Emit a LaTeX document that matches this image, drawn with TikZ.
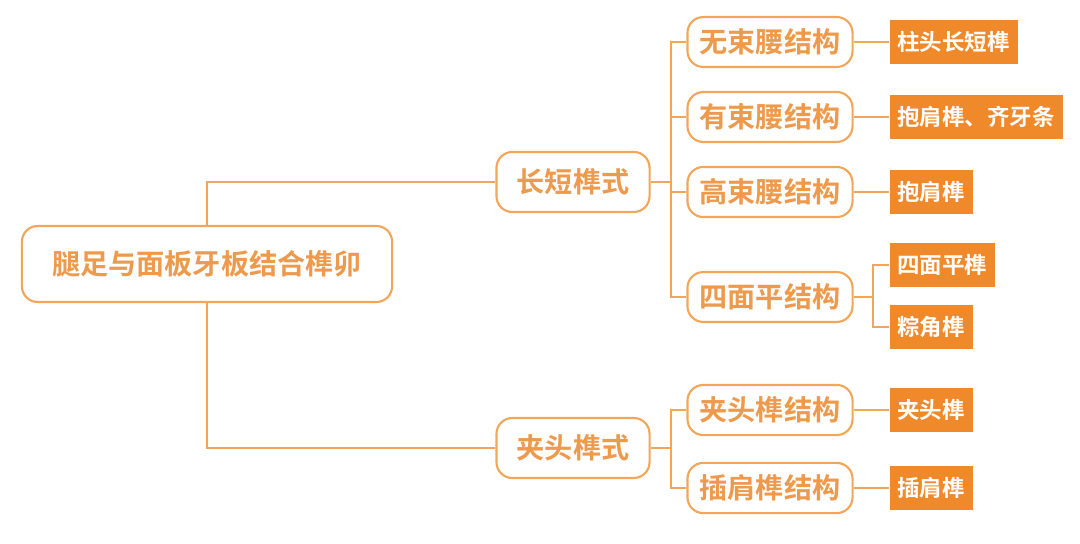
\documentclass[tikz,border=0pt]{standalone}
\usepackage{fontspec}
\setmainfont{Noto Sans CJK SC Bold}
\usetikzlibrary{positioning}
\definecolor{edgeorange}{HTML}{F2A65A}
\definecolor{textorange}{HTML}{EE9A4D}
\definecolor{fillorange}{HTML}{F0892A}
\tikzset{
  rootbox/.style={draw=edgeorange, line width=0.6pt, rounded corners=4.5pt, fill=white,
    text=textorange, font=\fontsize{8}{9}\selectfont, minimum width=3.7cm, minimum height=0.76cm},
  midbox/.style={draw=edgeorange, line width=0.6pt, rounded corners=4.5pt, fill=white,
    text=textorange, font=\fontsize{8}{9}\selectfont, minimum width=1.53cm, minimum height=0.6cm},
  subbox/.style={draw=edgeorange, line width=0.6pt, rounded corners=4.5pt, fill=white,
    text=textorange, font=\fontsize{8}{9}\selectfont, minimum width=1.65cm, minimum height=0.46cm},
  leafbox/.style={fill=fillorange, text=white, font=\fontsize{6.4}{7}\selectfont,
    minimum height=0.36cm, inner xsep=2.2pt, anchor=west},
  link/.style={draw=edgeorange, line width=0.6pt}
}
\begin{document}
\begin{tikzpicture}[x=0.01cm, y=-0.01cm]
  \useasboundingbox (0,0) rectangle (1080,543);
  % root and first level
  \node[rootbox] (root) at (207,264) {腿足与面板牙板结合榫卯};
  \node[midbox] (cd) at (573,182) {长短榫式};
  \node[midbox] (jt) at (573,448) {夹头榫式};
  % second level
  \foreach \n/\y/\t in {a/42/无束腰结构, b/117/有束腰结构, c/192/高束腰结构,
      d/297/四面平结构, e/410/夹头榫结构, f/488/插肩榫结构}
    \node[subbox] (s\n) at (770,\y) {\t};
  % leaves
  \node[leafbox] (la) at (889,42) {柱头长短榫};
  \node[leafbox] (lb) at (889,117) {抱肩榫、齐牙条};
  \node[leafbox] (lc) at (889,192) {抱肩榫};
  \node[leafbox] (ld1) at (889,265) {四面平榫};
  \node[leafbox] (ld2) at (889,327) {粽角榫};
  \node[leafbox] (le) at (889,410) {夹头榫};
  \node[leafbox] (lf) at (889,488) {插肩榫};
  % connectors
  \path[link] (root.north) |- (cd.west);
  \path[link] (root.south) |- (jt.west);
  \foreach \s in {sa,sb,sc,sd}
    \path[link] (cd.east) -- ++(20,0) |- (\s.west);
  \foreach \s in {se,sf}
    \path[link] (jt.east) -- ++(20,0) |- (\s.west);
  \foreach \s/\l in {sa/la,sb/lb,sc/lc,se/le,sf/lf}
    \path[link] (\s.east) -- (\l.west);
  \foreach \l in {ld1,ld2}
    \path[link] (sd.east) -- ++(19,0) |- (\l.west);
\end{tikzpicture}
\end{document}
